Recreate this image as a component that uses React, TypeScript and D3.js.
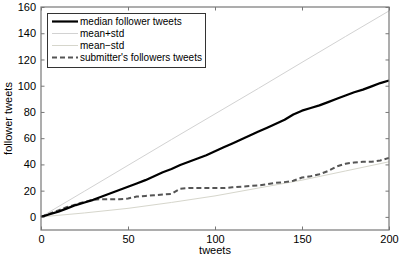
// App.tsx
import { useEffect, useRef } from "react";
import * as d3 from "d3";

const tweets5 = d3.range(0, 201, 5);
const medianTweets = [
  0, 2, 4, 6.5, 9, 11, 13, 15.5, 18, 20.5, 23, 25.5, 28, 31, 34, 36.5, 39.5, 42,
  44.5, 47, 50, 53, 56, 59, 62, 65, 68, 71, 74, 78, 81, 83, 85, 87.5, 90, 92.5,
  95, 97, 99.5, 102, 104,
];
const submitterTweets = [
  0, 2.5, 5, 7.5, 9.5, 11.5, 13, 13.5, 13.5, 13.5, 14, 15.5, 16, 16.5, 17, 17.5,
  21.5, 22, 22, 22, 22, 22, 22.5, 23, 23.5, 24, 25, 26, 26.5, 27.5, 30, 31, 32.5,
  35, 38.5, 40.5, 41.5, 42, 42, 43, 45,
];
const tweets25 = d3.range(0, 201, 25);
const meanPlusStd = [0, 19.6, 39.3, 59, 78.5, 98, 117.8, 137.5, 157];
const meanMinusStd = [0, 3, 6.5, 11, 16, 22, 28, 35, 42];

const xTicks = [0, 50, 100, 150, 200];
const yTicks = [0, 20, 40, 60, 80, 100, 120, 140, 160];

const legendItems = [
  { label: "median follower tweets", color: "#000", width: 2.2, dash: "" },
  { label: "mean+std", color: "#d2d2d2", width: 1, dash: "" },
  { label: "mean\u2212std", color: "#d6d6cc", width: 1, dash: "" },
  { label: "submitter's followers tweets", color: "#555", width: 2, dash: "5,3" },
];

const W = 402;
const H = 259;

const App = () => {
  const svgRef = useRef<SVGSVGElement | null>(null);

  useEffect(() => {
    if (!svgRef.current) return;
    const svg = d3.select(svgRef.current);
    svg.selectAll("*").remove();

    const margin = { top: 7, right: 13, bottom: 29, left: 41 };
    const x = d3.scaleLinear().domain([0, 200]).range([margin.left, W - margin.right]);
    const y = d3.scaleLinear().domain([-10, 160]).range([H - margin.bottom, margin.top]);
    const font = "Liberation Sans, Arial, sans-serif";

    const line = d3
      .line<[number, number]>()
      .x((d) => x(d[0]))
      .y((d) => y(d[1]));

    const plot = svg.append("g");
    const addLine = (xs: number[], ys: number[], color: string, w: number, dash = "") =>
      plot
        .append("path")
        .datum(xs.map((t, i) => [t, ys[i]] as [number, number]))
        .attr("fill", "none")
        .attr("stroke", color)
        .attr("stroke-width", w)
        .attr("stroke-dasharray", dash)
        .attr("stroke-linejoin", "round")
        .attr("d", line);

    addLine(tweets25, meanPlusStd, "#d2d2d2", 1);
    addLine(tweets25, meanMinusStd, "#d6d6cc", 1);
    addLine(tweets5, submitterTweets, "#555", 2, "5,3");
    addLine(tweets5, medianTweets, "#000", 2.2);

    // axes box with inward ticks on all sides
    const axisColor = "#777";
    const [x0, x1] = x.range();
    const [y0, y1] = y.range();
    svg
      .append("rect")
      .attr("x", x0)
      .attr("y", y1)
      .attr("width", x1 - x0)
      .attr("height", y0 - y1)
      .attr("fill", "none")
      .attr("stroke", axisColor)
      .attr("stroke-width", 1.2);

    const tl = 3.5;
    const bottom = d3.axisBottom(x).tickValues(xTicks).tickSizeInner(-tl).tickSizeOuter(0).tickPadding(5);
    const top = d3.axisTop(x).tickValues(xTicks).tickSizeInner(-tl).tickSizeOuter(0).tickFormat(() => "");
    const left = d3.axisLeft(y).tickValues(yTicks).tickSizeInner(-tl).tickSizeOuter(0).tickPadding(5);
    const right = d3.axisRight(y).tickValues(yTicks).tickSizeInner(-tl).tickSizeOuter(0).tickFormat(() => "");

    const styleAxis = (g: d3.Selection<SVGGElement, unknown, null, undefined>) => {
      g.select(".domain").remove();
      g.selectAll(".tick line").attr("stroke", axisColor);
      g.selectAll(".tick text").attr("fill", "#000").attr("font-size", 11).attr("font-family", font);
    };

    svg.append("g").attr("transform", `translate(0,${y0})`).call(bottom).call(styleAxis);
    svg.append("g").attr("transform", `translate(0,${y1})`).call(top).call(styleAxis);
    svg.append("g").attr("transform", `translate(${x0},0)`).call(left).call(styleAxis);
    svg.append("g").attr("transform", `translate(${x1},0)`).call(right).call(styleAxis);

    svg
      .append("text")
      .attr("x", (x0 + x1) / 2)
      .attr("y", 254)
      .attr("text-anchor", "middle")
      .attr("font-size", 11)
      .attr("font-family", font)
      .text("tweets");

    svg
      .append("text")
      .attr("transform", `translate(12,${(y0 + y1) / 2}) rotate(-90)`)
      .attr("text-anchor", "middle")
      .attr("font-size", 11)
      .attr("font-family", font)
      .text("follower tweets");

    // legend
    const lg = svg.append("g");
    lg.append("rect")
      .attr("x", 47.5)
      .attr("y", 13.5)
      .attr("width", 158)
      .attr("height", 54)
      .attr("fill", "#fff")
      .attr("stroke", "#333")
      .attr("stroke-width", 1);
    legendItems.forEach((it, i) => {
      const cy = 21.5 + i * 12;
      lg.append("line")
        .attr("x1", 52)
        .attr("x2", 78)
        .attr("y1", cy)
        .attr("y2", cy)
        .attr("stroke", it.color)
        .attr("stroke-width", it.width)
        .attr("stroke-dasharray", it.dash);
      lg.append("text")
        .attr("x", 80)
        .attr("y", cy)
        .attr("dy", "0.35em")
        .attr("font-size", 10)
        .attr("font-family", font)
        .text(it.label);
    });
  }, []);

  return (
    <svg
      ref={svgRef}
      width={W}
      height={H}
      style={{ position: "absolute", left: 0, top: 0, background: "#fff" }}
    />
  );
};

export default App;
